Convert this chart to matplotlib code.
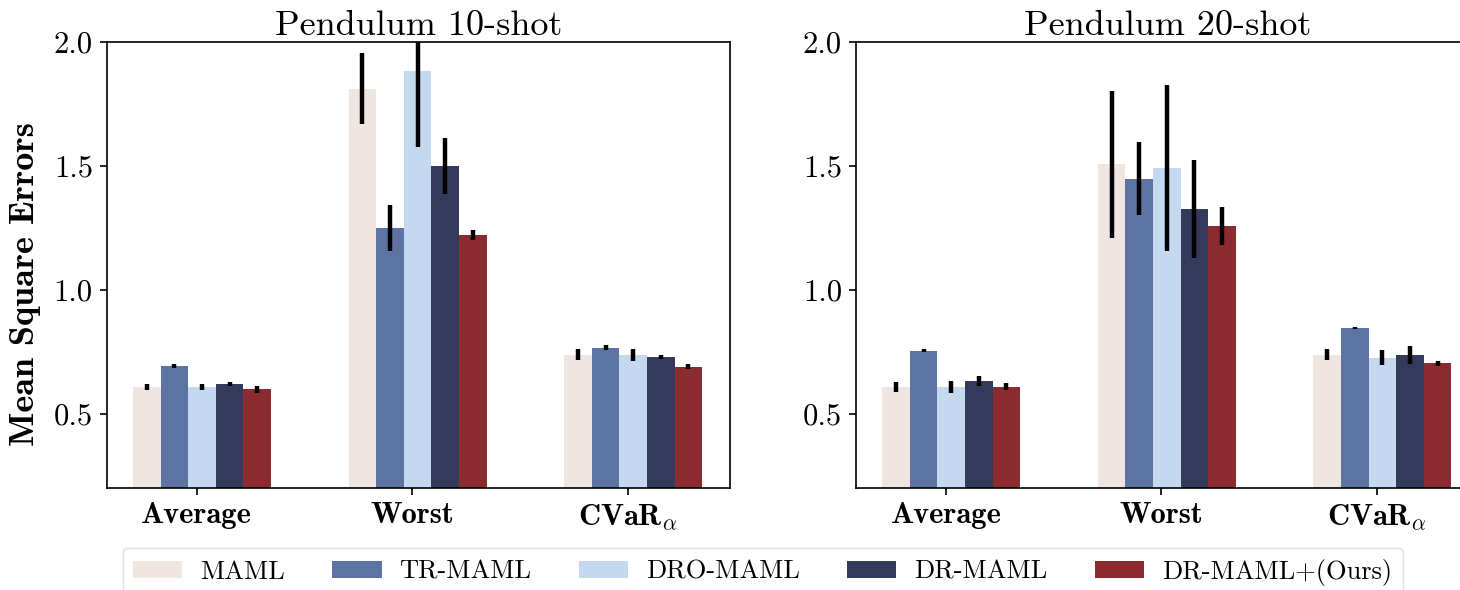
import matplotlib
matplotlib.use("Agg")
import matplotlib.pyplot as plt
import numpy as np

plt.rcParams["mathtext.fontset"] = "cm"
plt.rcParams["font.family"] = "cmr10"
plt.rcParams["axes.unicode_minus"] = False

# -----------------------------
# Data
# -----------------------------
methods = ["MAML", "TR-MAML", "DRO-MAML", "DR-MAML", "DR-MAML+(Ours)"]
colors = ["#efe6e2", "#5d74a3", "#c4d8f0", "#333a5b", "#8b2b2f"]
metrics = ["Average", "Worst", r"$\mathbf{CVaR}_{\alpha}$"]

# rows: methods, cols: Average / Worst / CVaR
mse_10shot = [
    [0.609, 1.810, 0.738],
    [0.691, 1.250, 0.767],
    [0.609, 1.882, 0.737],
    [0.621, 1.500, 0.731],
    [0.599, 1.220, 0.690],
]
err_10shot = [
    [0.012, 0.143, 0.022],
    [0.008, 0.092, 0.010],
    [0.012, 0.308, 0.023],
    [0.008, 0.113, 0.008],
    [0.013, 0.020, 0.009],
]
mse_20shot = [
    [0.609, 1.505, 0.738],
    [0.754, 1.448, 0.847],
    [0.609, 1.490, 0.727],
    [0.633, 1.327, 0.737],
    [0.609, 1.257, 0.703],
]
err_20shot = [
    [0.020, 0.296, 0.023],
    [0.006, 0.148, 0.004],
    [0.023, 0.335, 0.031],
    [0.020, 0.197, 0.037],
    [0.014, 0.078, 0.011],
]
titles = ["Pendulum 10-shot", "Pendulum 20-shot"]

BAR_W = 0.128
SHIFT = 0.025


def draw_panel(ax, means, errs, title):
    x = np.arange(len(metrics))
    for i, name in enumerate(methods):
        pos = x + SHIFT + (i - 2) * BAR_W
        ax.bar(pos, means[i], BAR_W, color=colors[i], label=name,
               yerr=errs[i], ecolor="black",
               error_kw=dict(elinewidth=3.2, capsize=0))
    ax.set_xlim(-0.417, 2.474)
    ax.set_ylim(0.2, 2.0)
    ax.set_xticks(x)
    ax.set_xticklabels(metrics, fontsize=22, family="cmb10")
    ax.set_yticks([0.5, 1.0, 1.5, 2.0])
    ax.set_yticklabels(["0.5", "1.0", "1.5", "2.0"], fontsize=22)
    ax.tick_params(axis="both", length=5, width=1.2, pad=5)
    for sp in ax.spines.values():
        sp.set_linewidth(1.2)
    ax.set_title(title, fontsize=26, pad=5)


fig = plt.figure(figsize=(14.6, 5.9), dpi=100)
ax1 = fig.add_axes([0.0731, 0.1724, 0.4269, 0.757])
ax2 = fig.add_axes([0.5863, 0.1724, 0.4269, 0.757])

draw_panel(ax1, mse_10shot, err_10shot, titles[0])
draw_panel(ax2, mse_20shot, err_20shot, titles[1])

fig.text(0.0175, 1 - 284 / 590, "Mean Square Errors", rotation=90,
         fontsize=26, family="cmb10", ha="center", va="center")

handles, labels = ax1.get_legend_handles_labels()
leg = fig.legend(handles, labels, loc="upper left", bbox_to_anchor=(0.084, 0.071),
                 borderaxespad=0, ncol=5, frameon=True, fancybox=True,
                 edgecolor="#d6d6d6", prop={"family": "cmr10", "size": 19},
                 handlelength=1.86, handleheight=0.65, handletextpad=0.68,
                 columnspacing=1.8, borderpad=0.4)
leg.get_frame().set_linewidth(1.0)

fig.savefig("out.png", dpi=100)
